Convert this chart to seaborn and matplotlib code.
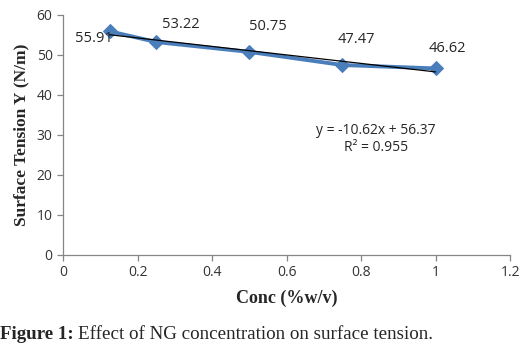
import numpy as np
import pandas as pd
import matplotlib
matplotlib.use("Agg")
import matplotlib.pyplot as plt
import seaborn as sns

conc = [0.125, 0.25, 0.5, 0.75, 1.0]
tension = [55.91, 53.22, 50.75, 47.47, 46.62]
point_labels = ["55.91", "53.22", "50.75", "47.47", "46.62"]
label_offsets = [(-16, -7), (25, 18), (19, 25), (14, 26), (12, 20)]
xticks = [0, 0.2, 0.4, 0.6, 0.8, 1, 1.2]
yticks = [0, 10, 20, 30, 40, 50, 60]

sns.set_style("white")
plt.rcParams['font.family'] = ['Open Sans', 'DejaVu Sans']

df = pd.DataFrame({"conc": conc, "tension": tension})

fig = plt.figure(figsize=(5.21, 3.55), dpi=100)
ax = fig.add_axes([0.121, 0.282, 0.858, 0.676])

blue = "#4a7ebb"
sns.lineplot(data=df, x="conc", y="tension", ax=ax, color=blue, lw=2.8,
             marker="D", markersize=7.5, markeredgecolor=blue, markerfacecolor=blue)

slope, intercept = np.polyfit(conc, tension, 1)
xs = np.array([min(conc), max(conc)])
ax.plot(xs, slope * xs + intercept, color="black", lw=0.9, zorder=3)

for x, y, lab, (dx, dy) in zip(conc, tension, point_labels, label_offsets):
    ax.annotate(lab, (x, y), xytext=(dx, dy), textcoords="offset pixels",
                ha="center", va="center", fontsize=10.5, color="#262626")

r = np.corrcoef(conc, tension)[0, 1]
ax.text(0.84, 31.0, f"y = {slope:.2f}x + {intercept:.2f}", ha="center", va="center",
        fontsize=10, color="#262626")
ax.text(0.84, 26.75, f"R² = {r**2:.3f}", ha="center", va="center",
        fontsize=10, color="#262626")

ax.set_xlim(0, 1.2)
ax.set_ylim(0, 60)
ax.set_xticks(xticks)
ax.set_xticklabels([str(t) for t in xticks])
ax.set_yticks(yticks)
for s in ["top", "right"]:
    ax.spines[s].set_visible(False)
for s in ["left", "bottom"]:
    ax.spines[s].set_color("#868686")
    ax.spines[s].set_linewidth(0.9)
ax.tick_params(axis="both", direction="out", length=4, width=0.9, color="#868686",
               labelsize=10, labelcolor="#333333", left=True, bottom=True)

ax.set_xlabel("Conc (%w/v)", fontsize=13, fontweight="bold",
              family=["Liberation Serif"], labelpad=7)
ax.set_ylabel("Surface Tension Υ (N/m)", fontsize=12.5, fontweight="bold",
              family=["Liberation Serif"], labelpad=5)

t1 = fig.text(0.0, 0.059, "Figure 1:", fontsize=13.7, fontweight="bold",
              family=["Liberation Serif"], va="center", ha="left")
fig.canvas.draw()
bb = t1.get_window_extent(renderer=fig.canvas.get_renderer())
x2 = (bb.x1 + 4) / fig.bbox.width
fig.text(x2, 0.059, "Effect of NG concentration on surface tension.", fontsize=13.7,
         family=["Liberation Serif"], va="center", ha="left")

fig.savefig("out.png", dpi=100)
